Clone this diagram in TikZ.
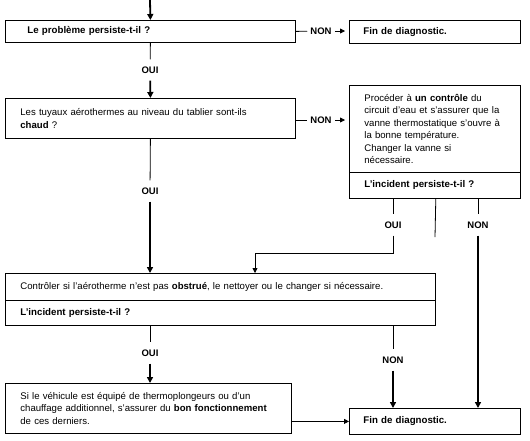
\documentclass[tikz,border=0pt]{standalone}
\usepackage{fontspec}
\setmainfont{Liberation Sans}
\usetikzlibrary{arrows.meta}

\begin{document}
\begin{tikzpicture}[
        x=1pt, y=-1pt,
        box/.style={rectangle, draw=black, line width=0.8pt, anchor=north west, align=left, inner xsep=15pt, inner ysep=0pt, font=\fontsize{9.6}{12.5}\selectfont},
        question/.style={box, font=\fontsize{9.7}{12.5}\selectfont\bfseries},
        answer/.style={font=\fontsize{9.5}{10}\selectfont\bfseries, inner xsep=3pt, inner ysep=7pt},
        link/.style={line width=0.8pt},
        flow/.style={line width=1.8pt, -{Triangle[length=6pt, width=6pt]}},
        thinflow/.style={line width=0.8pt, -{Triangle[length=5pt, width=5pt]}}
    ]
    \useasboundingbox (0,0) rectangle (530,440);

    % Boxes
    \node[question, inner xsep=22pt, text width=246pt, minimum height=22pt] (persiste) at (5,20) {Le problème persiste-t-il ?};
    \node[question, inner xsep=14pt, text width=143pt, minimum height=23pt] (fin1) at (349,20) {Fin de diagnostic.};
    \node[box, text width=260pt, minimum height=40pt] (tuyaux) at (5,98) {Les tuyaux aérothermes au niveau du tablier sont-ils\\ \textbf{chaud} ?};
    \node[box, inner xsep=15pt, text width=141pt, minimum height=87pt] (controle) at (349,85) {Procéder à \textbf{un contrôle} du\\ circuit d'eau et s'assurer que la\\ vanne thermostatique s'ouvre à\\ la bonne température.\\ Changer la vanne si\\ nécessaire.};
    \node[question, inner xsep=15pt, text width=141pt, minimum height=26pt] (incident1) at (349,172) {L'incident persiste-t-il ?};
    \node[box, text width=400pt, minimum height=27pt] (aerotherme) at (5,273) {Contrôler si l'aérotherme n'est pas \textbf{obstrué}, le nettoyer ou le changer si nécessaire.};
    \node[question, text width=400pt, minimum height=25pt] (incident2) at (5,300) {L'incident persiste-t-il ?};
    \node[box, text width=256pt, minimum height=50pt] (chauffage) at (5,383) {Si le véhicule est équipé de thermoplongeurs ou d'un\\ chauffage additionnel, s'assurer du \textbf{bon fonctionnement}\\ de ces derniers.};
    \node[question, inner xsep=14pt, text width=143pt, minimum height=26pt] (fin2) at (349,408) {Fin de diagnostic.};

    % Answers
    \node[answer] (non1) at (321,31) {NON};
    \node[answer] (oui1) at (150,70) {OUI};
    \node[answer] (non2) at (321,120) {NON};
    \node[answer] (oui2) at (150,191) {OUI};
    \node[answer] (oui3) at (393,225) {OUI};
    \node[answer] (non3) at (478,225) {NON};
    \node[answer] (oui4) at (150,353) {OUI};
    \node[answer] (non4) at (393,360) {NON};

    \coordinate (start) at (150,0);
    \coordinate (bend) at (255,253);
    \coordinate (stub) at (435,237);

    % Connectors
    \draw[flow] (start) -- (persiste.north);
    \draw[link] (persiste.east) -- (non1);
    \draw[thinflow, shorten >=4pt] (non1) -- (non1 -| fin1.west);
    \draw[link] (persiste.south) -- (oui1);
    \draw[flow] (oui1) -- (tuyaux.north);
    \draw[link] (tuyaux.east |- non2) -- (non2);
    \draw[thinflow, shorten >=4pt] (non2) -- (non2 -| controle.west);
    \draw[link] (tuyaux.south) -- (oui2);
    \draw[flow] (oui2) -- (oui2 |- aerotherme.north);
    \draw[link] (incident1.south -| oui3) -- (oui3);
    \draw[link] (oui3) |- (bend);
    \draw[thinflow] (bend) -- (bend |- aerotherme.north);
    \draw[link] (incident1.south -| aerotherme.east) -- (stub);
    \draw[link] (incident1.south -| non3) -- (non3);
    \draw[flow] (non3) -- (non3 |- fin2.north);
    \draw[link] (incident2.south -| oui4) -- (oui4);
    \draw[flow] (oui4) -- (oui4 |- chauffage.north);
    \draw[link] (incident2.south -| non4) -- (non4);
    \draw[flow] (non4) -- (non4 |- fin2.north);
    \draw[thinflow] (chauffage.east |- fin2) -- (fin2.west);
\end{tikzpicture}
\end{document}
